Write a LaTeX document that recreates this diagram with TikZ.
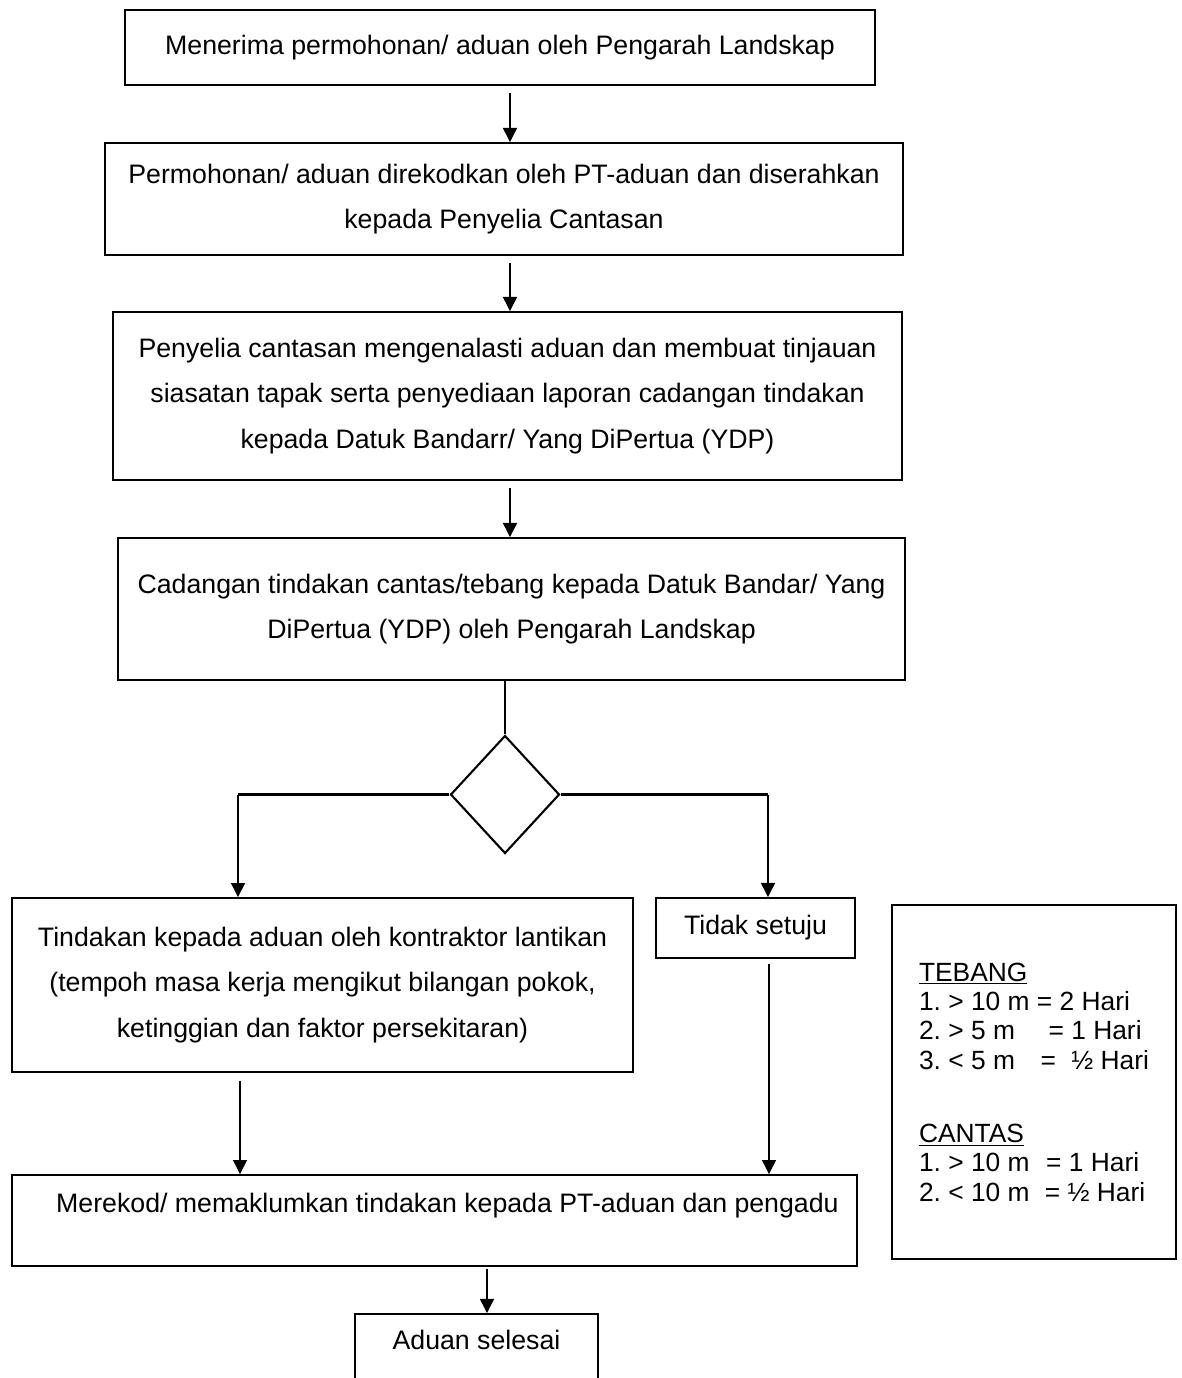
\documentclass[tikz,border=0pt]{standalone}
\usepackage{fontspec}
\setmainfont{Liberation Sans}
\usetikzlibrary{arrows.meta,shapes.geometric}
\frenchspacing

\begin{document}
\begin{tikzpicture}[x=0.02cm, y=-0.02cm,
    kotak/.style={draw, line width=1.1pt, align=center, inner sep=0pt,
      font=\fontsize{15.2}{26}\selectfont},
    panah/.style={line width=0.7pt, -{Triangle[length=8pt,width=8pt]}},
    garis/.style={line width=1.2pt}]
        \useasboundingbox (0,0) rectangle (1181,1378);
        \clip (0,0) rectangle (1181,1378);

        % Nodes
        \node (b1) at (500,47.5) [kotak, minimum width=15cm, minimum height=1.5cm] {Menerima permohonan/ aduan oleh Pengarah Landskap};
        \node (b2) at (504,199) [kotak, minimum width=15.96cm, minimum height=2.24cm] {Permohonan/ aduan direkodkan oleh PT-aduan dan diserahkan\\kepada Penyelia Cantasan};
        \node (b3) at (507.5,396) [kotak, minimum width=15.78cm, minimum height=3.36cm] {Penyelia cantasan mengenalasti aduan dan membuat tinjauan\\siasatan tapak serta penyediaan laporan cadangan tindakan\\kepada Datuk Bandarr/ Yang DiPertua (YDP)};
        \node (b4) at (511.5,609) [kotak, minimum width=15.74cm, minimum height=2.84cm] {Cadangan tindakan cantas/tebang kepada Datuk Bandar/ Yang\\DiPertua (YDP) oleh Pengarah Landskap};
        \node (d) at (505,794.5) [diamond, draw, line width=1.2pt, inner sep=0pt, minimum width=2.18cm, minimum height=2.36cm] {};
        \node (b5) at (322.5,985) [kotak, minimum width=12.42cm, minimum height=3.48cm] {Tindakan kepada aduan oleh kontraktor lantikan\\(tempoh masa kerja mengikut bilangan pokok,\\ketinggian dan faktor persekitaran)};
        \node (b6) at (755.5,928) [kotak, minimum width=3.98cm, minimum height=1.2cm] {Tidak setuju};
        \node (b7) at (434.5,1220.5) [kotak, minimum width=16.9cm, minimum height=1.82cm, text height=11pt, text depth=19.6pt] {\hspace*{14.7pt}Merekod/ memaklumkan tindakan kepada PT-aduan dan pengadu};
        \node (b8) at (476.5,1313) [kotak, anchor=north, minimum width=4.86cm, text height=20.4pt, text depth=30pt] {Aduan selesai};
        \node (nota) at (1034,1082) [draw, line width=1.1pt, align=left, inner sep=0pt, minimum width=5.68cm, minimum height=7.08cm, font=\fontsize{15}{16.7}\selectfont] {\underline{TEBANG}\\
          1. > 10 m = 2 Hari\\
          2. > 5 m\hspace{1.0em} = 1 Hari\\
          3. < 5 m\hspace{0.7em} =\hspace{0.3em} ½ Hari\\[25pt]
          \underline{CANTAS}\\
          1. > 10 m\hspace{0.35em} = 1 Hari\\
          2. < 10 m\hspace{0.3em} = ½ Hari};

        % Edges
        \draw[panah, shorten <=0.14cm] ([xshift=0.2cm]b1.south) -- ([xshift=0.2cm]b1.south |- b2.north);
        \draw[panah, shorten <=0.14cm] ([xshift=0.12cm]b2.south) -- ([xshift=0.12cm]b2.south |- b3.north);
        \draw[panah, shorten <=0.14cm] ([xshift=0.05cm]b3.south) -- ([xshift=0.05cm]b3.south |- b4.north);
        \draw[garis] (d.north |- b4.south) -- (d.north);
        \draw[garis] (d.west) -- ([xshift=-1.69cm]b5.north |- d.west);
        \draw[panah] ([xshift=-1.69cm]b5.north |- d.west) -- ([xshift=-1.69cm]b5.north);
        \draw[garis] (d.east) -- ([xshift=0.25cm]b6.north |- d.east);
        \draw[panah] ([xshift=0.25cm]b6.north |- d.east) -- ([xshift=0.25cm]b6.north);
        \draw[panah, shorten <=0.16cm] ([xshift=-1.65cm]b5.south) -- ([xshift=-1.65cm]b5.south |- b7.north);
        \draw[panah, shorten <=0.1cm] ([xshift=0.27cm]b6.south) -- ([xshift=0.27cm]b6.south |- b7.north);
        \draw[panah, shorten <=0.04cm] ([xshift=1.05cm]b7.south) -- ([xshift=1.05cm]b7.south |- b8.north);
      \end{tikzpicture}
\end{document}
